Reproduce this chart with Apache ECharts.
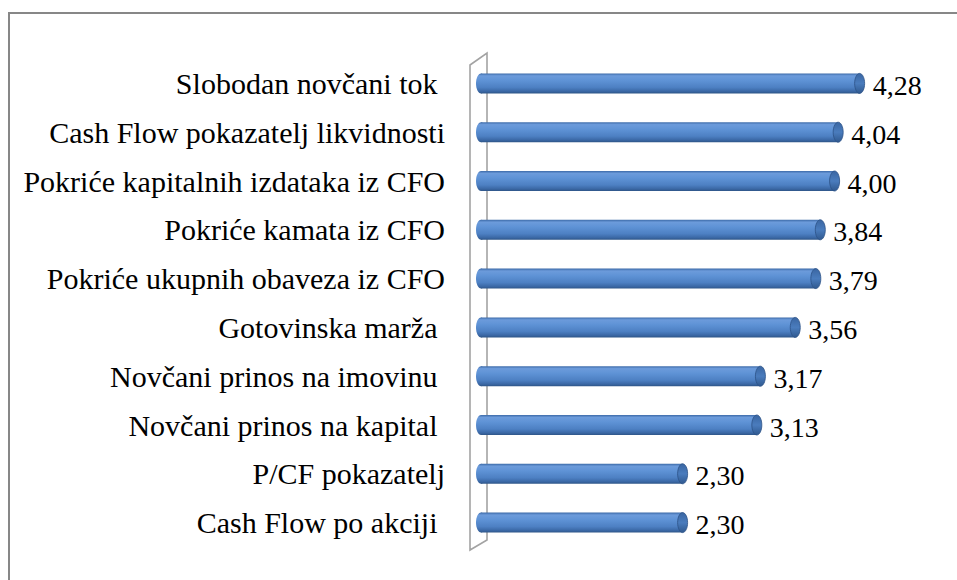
<!DOCTYPE html>
<html>
<head>
<meta charset="utf-8">
<script src="https://cdn.jsdelivr.net/npm/echarts@6/dist/echarts.min.js"></script>
<style>
  html, body { margin: 0; padding: 0; background: #fff; }
  #chart { width: 957px; height: 580px; }
</style>
</head>
<body>
<div id="chart"></div>
<script>
// Cash-flow indicators, ranked
const categories = [
  'Slobodan novčani tok ',
  'Cash Flow pokazatelj likvidnosti',
  'Pokriće kapitalnih izdataka iz CFO',
  'Pokriće kamata iz CFO',
  'Pokriće ukupnih obaveza iz CFO',
  'Gotovinska marža ',
  'Novčani prinos na imovinu ',
  'Novčani prinos na kapital ',
  'P/CF pokazatelj',
  'Cash Flow po akciji '
];
const values = [4.28, 4.04, 4.00, 3.84, 3.79, 3.56, 3.17, 3.13, 2.30, 2.30];

const FONT = '"Liberation Serif", "Times New Roman", serif';
const GRID = { left: 482, top: 59, width: 447, height: 488 };

const chart = echarts.init(document.getElementById('chart'), null, { renderer: 'svg' });

// vertical shading that gives each bar its cylinder look
const bodyFill = new echarts.graphic.LinearGradient(0, 0, 0, 1, [
  { offset: 0, color: '#3c6aa8' },
  { offset: 0.12, color: '#6c9bdb' },
  { offset: 0.35, color: '#5f93d6' },
  { offset: 0.7, color: '#4d80c3' },
  { offset: 0.9, color: '#3a67a4' },
  { offset: 1, color: '#2e5587' }
]);
const capFill = new echarts.graphic.LinearGradient(0, 0, 0, 1, [
  { offset: 0, color: '#3a66a2' },
  { offset: 0.5, color: '#4a7cbd' },
  { offset: 1, color: '#30598f' }
]);

function renderCylinder(params, api) {
  const v = api.value(0);
  const idx = api.value(1);
  const start = api.coord([0, idx]);
  const end = api.coord([v, idx]);
  const h = 20, rx = 5;
  const y = start[1];
  const xl = start[0] - 1;
  const xr = end[0] - rx;
  return {
    type: 'group',
    children: [
      { type: 'ellipse', shape: { cx: xl, cy: y, rx: rx, ry: h / 2 }, style: { fill: bodyFill } },
      { type: 'rect', shape: { x: xl, y: y - h / 2, width: xr - xl, height: h }, style: { fill: bodyFill } },
      { type: 'ellipse', shape: { cx: xr, cy: y, rx: rx, ry: h / 2 },
        style: { fill: capFill, stroke: '#2c5286', lineWidth: 0.8 } },
      { type: 'text', x: end[0] + 8, y: y + 2,
        style: { text: v.toFixed(2).replace('.', ','), font: '28px ' + FONT,
                 fill: '#000', align: 'left', verticalAlign: 'middle' } }
    ]
  };
}

// back wall of the 3D plot area, drawn relative to the grid
const gL = GRID.left, gT = GRID.top, gB = GRID.top + GRID.height;
const wallPts = [
  [gL - 12, gT + 6],
  [gL + 5, gT - 6],
  [gL + 5, gB - 7],
  [gL - 12, gB + 3]
];

chart.setOption({
  backgroundColor: '#fff',
  animation: false,
  grid: { left: GRID.left, top: GRID.top, width: GRID.width, height: GRID.height, containLabel: false },
  xAxis: { type: 'value', min: 0, max: 5, show: false },
  yAxis: {
    type: 'category',
    data: categories,
    inverse: true,
    axisLine: { show: false },
    axisTick: { show: false },
    splitLine: { show: false },
    axisLabel: { fontFamily: FONT, fontSize: 30, color: '#000', margin: 37,
                 padding: [4, 0, 0, 0] }
  },
  graphic: [
    { type: 'rect', z: 0, shape: { x: 9, y: 13, width: 970, height: 600 },
      style: { fill: 'none', stroke: '#878787', lineWidth: 2 } },
    { type: 'polygon', z: 1, shape: { points: wallPts },
      style: { fill: '#fff', stroke: '#a3a3a3', lineWidth: 1.6 } }
  ],
  series: [{
    type: 'custom',
    z: 10,
    renderItem: renderCylinder,
    encode: { x: 0, y: 1 },
    data: values.map((v, i) => [v, i])
  }]
});
</script>
</body>
</html>
